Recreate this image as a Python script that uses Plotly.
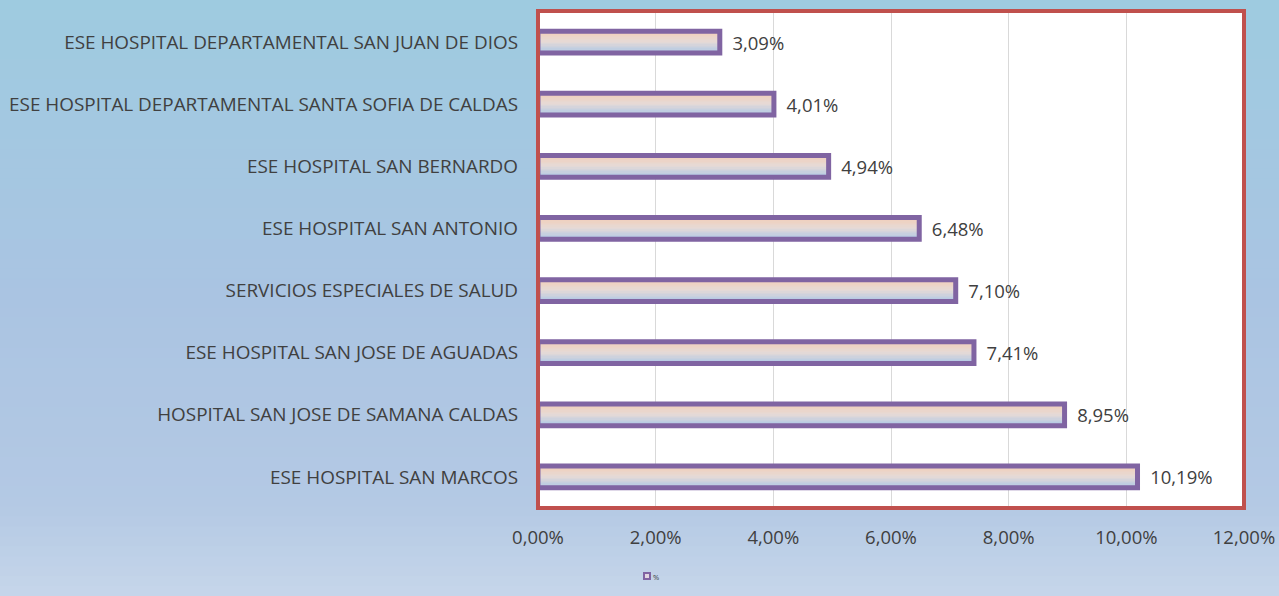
import plotly.graph_objects as go

categories = [
    "ESE HOSPITAL DEPARTAMENTAL SAN JUAN DE DIOS",
    "ESE HOSPITAL DEPARTAMENTAL SANTA SOFIA DE CALDAS",
    "ESE HOSPITAL SAN BERNARDO",
    "ESE HOSPITAL SAN ANTONIO",
    "SERVICIOS ESPECIALES DE SALUD",
    "ESE HOSPITAL SAN JOSE DE AGUADAS",
    "HOSPITAL SAN JOSE DE SAMANA CALDAS",
    "ESE HOSPITAL SAN MARCOS",
]
values = [0.0309, 0.0401, 0.0494, 0.0648, 0.0710, 0.0741, 0.0895, 0.1019]
series_name = "%"
x_ticks = [0, 0.02, 0.04, 0.06, 0.08, 0.10, 0.12]

W, H = 1279, 596
ML, MR, MT, MB = 538, 35, 11, 88
PW = W - ML - MR
PH = H - MT - MB

def lerp(c1, c2, t):
    return tuple(round(a + (b - a) * t) for a, b in zip(c1, c2))

def rgb(c):
    return "rgb(%d,%d,%d)" % c

def px_x(p):
    return (p - ML) / PW

def px_y(p):
    return (H - MB - p) / PH

fig = go.Figure()

# gradient bars made of thin slices
bar_w = 0.35
n = 16
top_c = (242, 206, 184)
mid_c = (230, 218, 214)
bot_c = (178, 201, 229)
for i in range(n):
    t = i / (n - 1)
    c = lerp(top_c, mid_c, t * 2) if t < 0.5 else lerp(mid_c, bot_c, (t - 0.5) * 2)
    fig.add_trace(go.Bar(
        x=values, y=categories, orientation="h",
        width=bar_w / n + 0.002, offset=-bar_w / 2 + i * bar_w / n,
        marker=dict(color=rgb(c), line=dict(width=0)),
        showlegend=False, hoverinfo="skip",
    ))

fig.add_trace(go.Bar(
    x=values, y=categories, orientation="h", name=series_name,
    width=bar_w, offset=-bar_w / 2,
    marker=dict(color="rgba(0,0,0,0)", line=dict(color="#8064A2", width=5)),
    texttemplate="  %{x:.2%}", textposition="outside", cliponaxis=False,
    constraintext="none",
    textfont=dict(size=18.5, color="#404040", family="Open Sans"),
    showlegend=False,
))

shapes = []
# background gradient bands
stops = [(0.0, (158, 203, 224)), (0.5, (170, 196, 226)), (0.85, (180, 201, 228)), (1.0, (198, 214, 234))]
nb = 60
for k in range(nb):
    f = (k + 0.5) / nb
    for j in range(len(stops) - 1):
        if stops[j][0] <= f <= stops[j + 1][0]:
            t = (f - stops[j][0]) / (stops[j + 1][0] - stops[j][0])
            c = lerp(stops[j][1], stops[j + 1][1], t)
            break
    py0 = k * H / nb
    py1 = (k + 1) * H / nb + 1
    shapes.append(dict(type="rect", xref="paper", yref="paper",
                       x0=px_x(0), x1=px_x(W + 2),
                       y0=px_y(py1), y1=px_y(py0), fillcolor=rgb(c), line=dict(width=0), layer="below"))
shapes.append(dict(type="rect", xref="paper", yref="paper", x0=0, x1=1, y0=0, y1=1,
                   fillcolor="white", line=dict(width=0), layer="below"))
shapes.append(dict(type="rect", xref="paper", yref="paper", x0=0, x1=1, y0=0, y1=1,
                   fillcolor="rgba(0,0,0,0)", line=dict(color="#C0504D", width=4), layer="above"))
# legend symbol
shapes.append(dict(type="rect", xref="paper", yref="paper",
                   x0=px_x(644), x1=px_x(650), y0=px_y(579), y1=px_y(573),
                   fillcolor="#E3D6E0", line=dict(color="#8064A2", width=2), layer="above"))

annotations = [dict(text=series_name, xref="paper", yref="paper", x=px_x(651), y=px_y(576.5),
                    xanchor="left", yanchor="middle", showarrow=False,
                    font=dict(size=7.5, color="#404040", family="Open Sans"))]

fig.update_layout(
    width=W, height=H,
    margin=dict(l=ML, r=MR, t=MT, b=MB, pad=0),
    paper_bgcolor="#B0C8E2", plot_bgcolor="rgba(0,0,0,0)",
    separators=",.",
    barmode="overlay",
    shapes=shapes,
    annotations=annotations,
    font=dict(family="Open Sans", color="#404040"),
    xaxis=dict(range=[0, 0.12], tickvals=x_ticks, tickformat=".2%", automargin=False,
               showgrid=True, gridcolor="#D9D9D9", gridwidth=1, zeroline=False,
               tickfont=dict(size=18.5, color="#404040"), ticks="", fixedrange=True,
               ticklabelstandoff=16),
    yaxis=dict(autorange="reversed", showgrid=False, ticks="", automargin=False,
               tickfont=dict(size=18.9, color="#404040"), ticklabelstandoff=19),
    showlegend=False,
)

fig.write_html("out.html")
